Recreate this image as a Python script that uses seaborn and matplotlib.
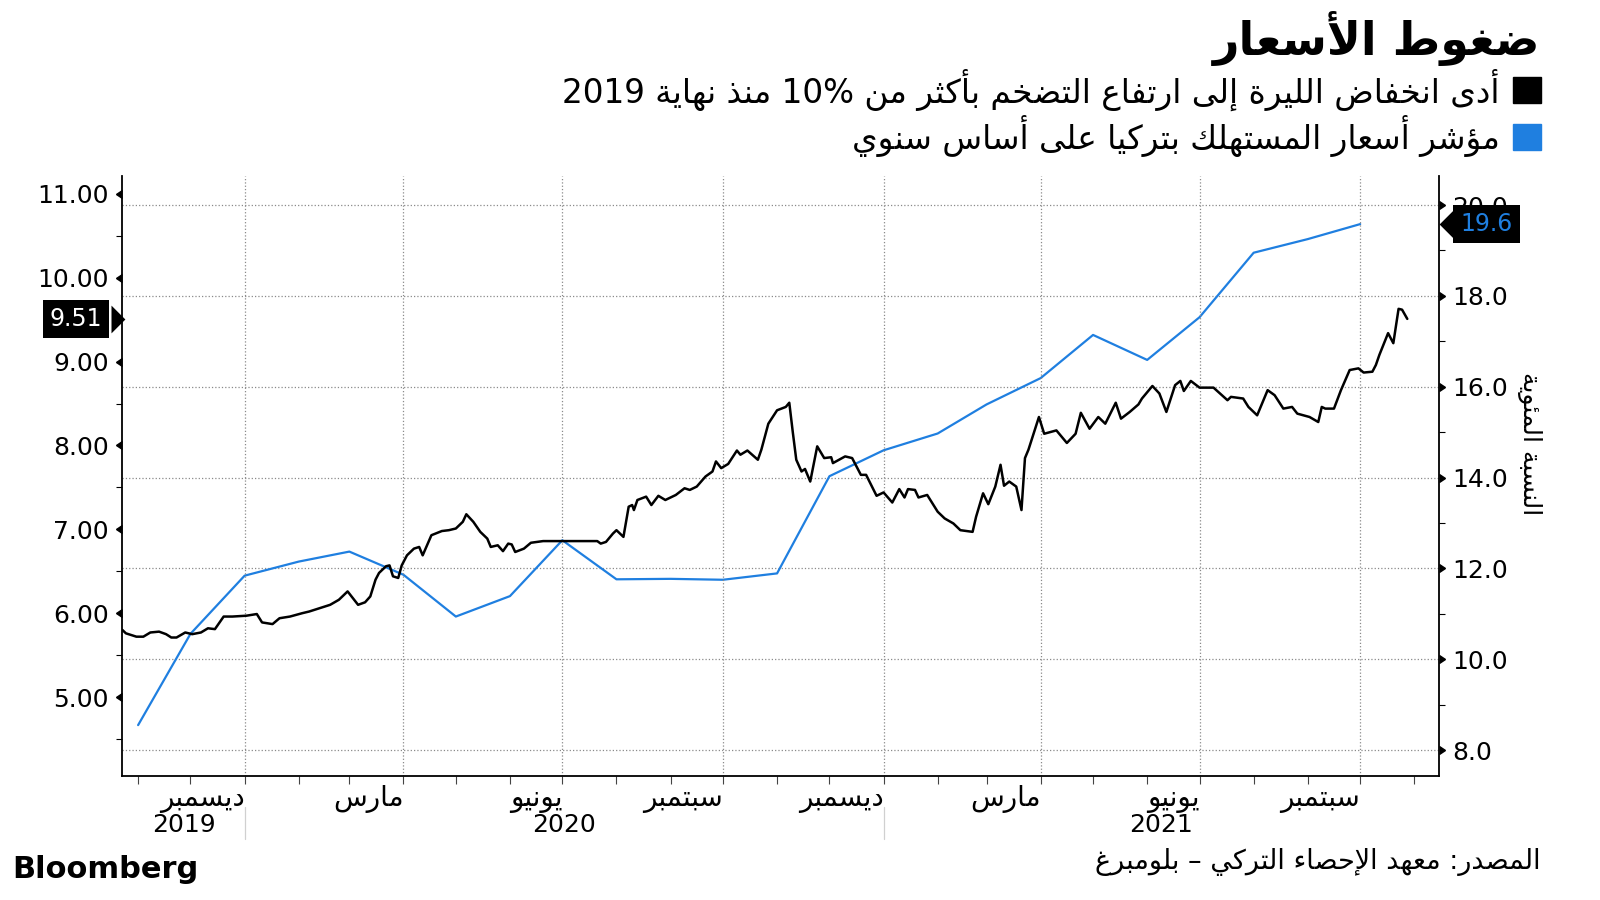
import re

import matplotlib
import matplotlib.pyplot as plt
import matplotlib.dates as mdates
import matplotlib.markers as mmarkers
import matplotlib.transforms as mtransforms
from matplotlib.patches import Rectangle
import pandas as pd
import seaborn as sns

# ---- data ----
lira_dates = [
    "2019-10-23", "2019-10-25", "2019-10-31", "2019-11-04", "2019-11-08", "2019-11-13",
    "2019-11-17", "2019-11-20", "2019-11-23", "2019-11-28", "2019-12-02", "2019-12-07",
    "2019-12-11", "2019-12-15", "2019-12-20", "2019-12-25", "2020-01-02", "2020-01-08",
    "2020-01-11", "2020-01-17", "2020-01-21", "2020-01-27", "2020-02-03", "2020-02-07",
    "2020-02-13", "2020-02-19", "2020-02-24", "2020-02-29", "2020-03-03", "2020-03-06",
    "2020-03-10", "2020-03-13", "2020-03-16", "2020-03-18", "2020-03-22", "2020-03-24",
    "2020-03-26", "2020-03-29", "2020-03-31", "2020-04-03", "2020-04-07", "2020-04-10",
    "2020-04-12", "2020-04-17", "2020-04-23", "2020-04-27", "2020-05-01", "2020-05-05",
    "2020-05-07", "2020-05-11", "2020-05-15", "2020-05-19", "2020-05-21", "2020-05-25",
    "2020-05-28", "2020-05-31", "2020-06-02", "2020-06-04", "2020-06-09", "2020-06-13",
    "2020-06-20", "2020-06-29", "2020-07-07", "2020-07-15", "2020-07-21", "2020-07-23",
    "2020-07-26", "2020-07-30", "2020-08-01", "2020-08-05", "2020-08-08", "2020-08-10",
    "2020-08-11", "2020-08-13", "2020-08-18", "2020-08-21", "2020-08-25", "2020-08-29",
    "2020-09-04", "2020-09-09", "2020-09-12", "2020-09-16", "2020-09-21", "2020-09-25",
    "2020-09-27", "2020-09-30", "2020-10-04", "2020-10-09", "2020-10-11", "2020-10-15",
    "2020-10-21", "2020-10-23", "2020-10-27", "2020-11-01", "2020-11-06", "2020-11-08",
    "2020-11-10", "2020-11-12", "2020-11-15", "2020-11-17", "2020-11-20", "2020-11-24",
    "2020-11-28", "2020-12-02", "2020-12-03", "2020-12-10", "2020-12-14", "2020-12-19",
    "2020-12-22", "2020-12-28", "2021-01-01", "2021-01-06", "2021-01-10", "2021-01-13",
    "2021-01-15", "2021-01-19", "2021-01-21", "2021-01-26", "2021-02-01", "2021-02-05",
    "2021-02-10", "2021-02-14", "2021-02-21", "2021-02-23", "2021-02-27", "2021-03-02",
    "2021-03-06", "2021-03-09", "2021-03-11", "2021-03-14", "2021-03-18", "2021-03-21",
    "2021-03-23", "2021-03-25", "2021-03-31", "2021-04-03", "2021-04-10", "2021-04-16",
    "2021-04-21", "2021-04-24", "2021-04-29", "2021-05-04", "2021-05-08", "2021-05-14",
    "2021-05-17", "2021-05-22", "2021-05-27", "2021-05-29", "2021-06-04", "2021-06-08",
    "2021-06-12", "2021-06-17", "2021-06-20", "2021-06-22", "2021-06-26", "2021-07-01",
    "2021-07-09", "2021-07-17", "2021-07-19", "2021-07-26", "2021-07-29", "2021-08-03",
    "2021-08-09", "2021-08-13", "2021-08-18", "2021-08-23", "2021-08-26", "2021-09-02",
    "2021-09-07", "2021-09-09", "2021-09-11", "2021-09-16", "2021-09-20", "2021-09-25",
    "2021-09-30", "2021-10-03", "2021-10-08", "2021-10-10", "2021-10-12", "2021-10-17",
    "2021-10-20", "2021-10-23", "2021-10-25", "2021-10-28",
]
lira_values = [
    5.80, 5.76, 5.72, 5.72, 5.77, 5.78, 5.75, 5.71, 5.71, 5.77, 5.75, 5.77,
    5.82, 5.81, 5.96, 5.96, 5.97, 5.99, 5.89, 5.87, 5.94, 5.96, 6.00, 6.02,
    6.06, 6.10, 6.16, 6.26, 6.18, 6.10, 6.13, 6.20, 6.40, 6.48, 6.56, 6.57,
    6.44, 6.42, 6.57, 6.69, 6.77, 6.79, 6.69, 6.93, 6.98, 6.99, 7.01, 7.09,
    7.18, 7.09, 6.97, 6.89, 6.79, 6.81, 6.74, 6.83, 6.82, 6.73, 6.77, 6.84,
    6.86, 6.86, 6.86, 6.86, 6.86, 6.83, 6.85, 6.95, 6.99, 6.91, 7.27, 7.29,
    7.23, 7.35, 7.39, 7.29, 7.40, 7.35, 7.41, 7.49, 7.47, 7.51, 7.63, 7.69,
    7.81, 7.73, 7.78, 7.94, 7.89, 7.94, 7.83, 7.95, 8.26, 8.42, 8.46, 8.51,
    8.16, 7.83, 7.69, 7.72, 7.57, 7.99, 7.85, 7.86, 7.79, 7.87, 7.85, 7.65,
    7.65, 7.40, 7.44, 7.32, 7.48, 7.38, 7.48, 7.47, 7.38, 7.41, 7.21, 7.13,
    7.07, 6.99, 6.97, 7.15, 7.43, 7.30, 7.51, 7.77, 7.52, 7.57, 7.51, 7.23,
    7.85, 7.95, 8.34, 8.14, 8.18, 8.03, 8.14, 8.39, 8.20, 8.34, 8.26, 8.51,
    8.32, 8.40, 8.49, 8.56, 8.71, 8.62, 8.40, 8.72, 8.77, 8.65, 8.77, 8.69,
    8.69, 8.54, 8.58, 8.56, 8.46, 8.36, 8.66, 8.60, 8.44, 8.46, 8.38, 8.34,
    8.28, 8.46, 8.44, 8.44, 8.66, 8.90, 8.92, 8.87, 8.88, 8.96, 9.08, 9.34,
    9.22, 9.63, 9.62, 9.51,
]

cpi_months = [
    "2019-10", "2019-11", "2019-12", "2020-01", "2020-02", "2020-03", "2020-04", "2020-05",
    "2020-06", "2020-07", "2020-08", "2020-09", "2020-10", "2020-11", "2020-12", "2021-01",
    "2021-02", "2021-03", "2021-04", "2021-05", "2021-06", "2021-07", "2021-08", "2021-09",
]
cpi_values = [
    8.55, 10.56, 11.84, 12.15, 12.37, 11.86, 10.94, 11.39,
    12.62, 11.76, 11.77, 11.75, 11.89, 14.03, 14.60, 14.97,
    15.61, 16.19, 17.14, 16.59, 17.53, 18.95, 19.25, 19.58,
]

quarter_ticks = ["2020-01-01", "2020-04-01", "2020-07-01", "2020-10-01",
                 "2021-01-01", "2021-04-01", "2021-07-01", "2021-10-01"]
quarter_labels = ["ديسمبر", "مارس", "يونيو", "سبتمبر",
                  "ديسمبر", "مارس", "يونيو", "سبتمبر"]
year_labels = ["2019", "2020", "2021"]
year_starts = ["2020-01-01", "2021-01-01"]

title = "ضغوط الأسعار"
legend_lira = "أدى انخفاض الليرة إلى ارتفاع التضخم بأكثر من 10% منذ نهاية 2019"
legend_cpi = "مؤشر أسعار المستهلك بتركيا على أساس سنوي"
right_label = "النسبة المئوية"
source = "المصدر: معهد الإحصاء التركي – بلومبرغ"

BLUE = "#1f7fe0"

# ---- minimal Arabic shaping + right-to-left ordering ----
TWO = {"\u0622": 0xFE81, "\u0623": 0xFE83, "\u0624": 0xFE85, "\u0625": 0xFE87,
       "\u0627": 0xFE8D, "\u0629": 0xFE93, "\u062F": 0xFEA9, "\u0630": 0xFEAB,
       "\u0631": 0xFEAD, "\u0632": 0xFEAF, "\u0648": 0xFEED, "\u0649": 0xFEEF}
FOUR = {"\u0626": 0xFE89, "\u0628": 0xFE8F, "\u062A": 0xFE95, "\u062B": 0xFE99,
        "\u062C": 0xFE9D, "\u062D": 0xFEA1, "\u062E": 0xFEA5, "\u0633": 0xFEB1,
        "\u0634": 0xFEB5, "\u0635": 0xFEB9, "\u0636": 0xFEBD, "\u0637": 0xFEC1,
        "\u0638": 0xFEC5, "\u0639": 0xFEC9, "\u063A": 0xFECD, "\u0641": 0xFED1,
        "\u0642": 0xFED5, "\u0643": 0xFED9, "\u0644": 0xFEDD, "\u0645": 0xFEE1,
        "\u0646": 0xFEE5, "\u0647": 0xFEE9, "\u064A": 0xFEF1}
ONE = {"\u0621": 0xFE80}
LAM_ALEF = {"\u0622": 0xFEF5, "\u0623": 0xFEF7, "\u0625": 0xFEF9, "\u0627": 0xFEFB}


def shape(text):
    out = []
    prev_joins = False
    i = 0
    while i < len(text):
        c = text[i]
        nxt = text[i + 1] if i + 1 < len(text) else ""
        if c == "\u0644" and nxt in LAM_ALEF:
            out.append(chr(LAM_ALEF[nxt] + (1 if prev_joins else 0)))
            prev_joins = False
            i += 2
            continue
        if c in FOUR:
            joins_next = nxt in FOUR or nxt in TWO
            base = FOUR[c]
            if prev_joins and joins_next:
                code = base + 3
            elif prev_joins:
                code = base + 1
            elif joins_next:
                code = base + 2
            else:
                code = base
            out.append(chr(code))
            prev_joins = True
        elif c in TWO:
            out.append(chr(TWO[c] + (1 if prev_joins else 0)))
            prev_joins = False
        elif c in ONE:
            out.append(chr(ONE[c]))
            prev_joins = False
        else:
            out.append(c)
            prev_joins = False
        i += 1
    return "".join(out)


def rtl(text):
    parts = re.findall(r"[0-9A-Za-z%.]+|[^0-9A-Za-z%.]", shape(text))
    return "".join(reversed(parts))


# ---- frames ----
lira = pd.DataFrame({"date": pd.to_datetime(lira_dates), "value": lira_values})
cpi = pd.DataFrame({
    "date": [(pd.Period(m, "M") + 1).start_time for m in cpi_months],
    "value": cpi_values,
})

sns.set_theme(style="white")
plt.rcParams["font.family"] = ["DejaVu Sans"]
plt.rcParams["text.color"] = "black"
plt.rcParams["xtick.color"] = "black"
plt.rcParams["ytick.color"] = "black"
plt.rcParams["axes.labelcolor"] = "black"

fig = plt.figure(figsize=(16, 9), dpi=100)
ax = fig.add_axes([0.0765, 0.1383, 0.8227, 0.6667])
ax2 = ax.twinx()
ax.set_zorder(ax2.get_zorder() + 1)
ax.patch.set_visible(False)

sns.lineplot(data=cpi, x="date", y="value", ax=ax2, color=BLUE, linewidth=1.6)
sns.lineplot(data=lira, x="date", y="value", ax=ax, color="black", linewidth=1.8)

ax.set_xlim(pd.Timestamp("2019-10-23"), pd.Timestamp("2021-11-15"))
ax.set_ylim(4.064, 11.22)
ax2.set_ylim(7.44, 20.65)
ax.set_xlabel("")
ax.set_ylabel("")
ax2.set_xlabel("")
ax2.set_ylabel("")

# left axis
ax.set_yticks([5, 6, 7, 8, 9, 10, 11])
ax.set_yticks([4.5, 5.5, 6.5, 7.5, 8.5, 9.5, 10.5], minor=True)
ax.yaxis.set_major_formatter(matplotlib.ticker.FormatStrFormatter("%.2f"))
ax.tick_params(axis="y", which="major", left=True, length=7, width=1, pad=3,
               labelsize=18, colors="black")
ax.tick_params(axis="y", which="minor", left=True, length=4, width=0.8)
for t in ax.yaxis.get_major_ticks():
    t.tick1line.set_marker(mmarkers.CARETLEFTBASE)
    t.tick1line.set_markersize(6)

# right axis
ax2.set_yticks([8, 10, 12, 14, 16, 18, 20])
ax2.set_yticks([9, 11, 13, 15, 17, 19], minor=True)
ax2.yaxis.set_major_formatter(matplotlib.ticker.FormatStrFormatter("%.1f"))
ax2.tick_params(axis="y", which="major", right=True, length=7, width=1, pad=3,
                labelsize=18, colors="black")
ax2.tick_params(axis="y", which="minor", right=True, length=4, width=0.8)
for t in ax2.yaxis.get_major_ticks():
    t.tick2line.set_marker(mmarkers.CARETRIGHTBASE)
    t.tick2line.set_markersize(6)

# x axis
ax.set_xticks(pd.to_datetime(quarter_ticks), labels=[rtl(s) for s in quarter_labels])
ax.xaxis.set_minor_locator(mdates.MonthLocator())
ax.tick_params(axis="x", which="both", bottom=True, length=6, width=0.8,
               color="#444444", labelsize=20, pad=1)
for lbl in ax.get_xticklabels():
    lbl.set_horizontalalignment("right")

# grid
ax.grid(axis="x", which="major", linestyle=":", color="#8a8a8a", linewidth=0.9)
ax.grid(axis="y", visible=False)
ax2.grid(axis="y", which="major", linestyle=":", color="#8a8a8a", linewidth=0.9)
ax2.grid(axis="x", visible=False)

for a in (ax, ax2):
    for s in a.spines.values():
        s.set_visible(False)
ax.spines["left"].set_visible(True)
ax.spines["bottom"].set_visible(True)
ax2.spines["right"].set_visible(True)
for s in (ax.spines["left"], ax.spines["bottom"], ax2.spines["right"]):
    s.set_color("black")
    s.set_linewidth(1.3)

# year row under the month labels
xl = ax.get_xlim()
edges = [xl[0]] + [mdates.date2num(pd.Timestamp(d)) for d in year_starts] + [xl[1]]
xtr = mtransforms.blended_transform_factory(ax.transData, ax.transAxes)
for yl, a0, a1 in zip(year_labels, edges[:-1], edges[1:]):
    ax.text((a0 + a1) / 2, -0.082, yl, transform=xtr, ha="center", va="center",
            fontsize=18)
for d in year_starts:
    ax.axvline(pd.Timestamp(d), ymin=-0.106, ymax=-0.052, clip_on=False,
               color="#d0d0d0", linewidth=0.9)

# last-value tags
last_lira = lira_values[-1]
ltr = mtransforms.blended_transform_factory(ax.transAxes, ax.transData)
ax.text(-0.0152, last_lira, f"{last_lira:.2f}", transform=ltr, ha="right",
        va="center", color="white", fontsize=17, clip_on=False, zorder=20,
        bbox=dict(boxstyle="square,pad=0.3", fc="black", ec="none"))
ax.plot([-0.0090], [last_lira], transform=ltr, clip_on=False, zorder=20,
        marker=[(0, -1), (1, 0), (0, 1), (0, -1)], markersize=20,
        color="black", markeredgewidth=0, linestyle="none")

last_cpi = cpi_values[-1]
rtr = mtransforms.blended_transform_factory(ax2.transAxes, ax2.transData)
ax2.text(1.0163, last_cpi, f"{last_cpi:.1f}", transform=rtr, ha="left",
         va="center", color=BLUE, fontsize=17, clip_on=False, zorder=20,
         bbox=dict(boxstyle="square,pad=0.3", fc="black", ec="none"))
ax2.plot([1.0107], [last_cpi], transform=rtr, clip_on=False, zorder=20,
         marker=[(0, -1), (-1, 0), (0, 1), (0, -1)], markersize=20,
         color="black", markeredgewidth=0, linestyle="none")

ax2.text(1.0693, 0.5525, rtl(right_label), transform=ax2.transAxes,
         rotation=270, ha="center", va="center", fontsize=18)

# header
fig.text(0.963, 0.957, rtl(title), ha="right", va="center", fontsize=33,
         fontweight="bold")
fig.patches.append(Rectangle((0.9456, 0.8856), 0.0175, 0.0283,
                             transform=fig.transFigure, color="black"))
fig.text(0.9375, 0.90, rtl(legend_lira), ha="right", va="center", fontsize=23.5)
fig.patches.append(Rectangle((0.9456, 0.8333), 0.0175, 0.0294,
                             transform=fig.transFigure, color=BLUE))
fig.text(0.9375, 0.849, rtl(legend_cpi), ha="right", va="center", fontsize=23.5)

# footer
fig.text(0.0075, 0.034, "Bloomberg", ha="left", va="center", fontsize=22,
         fontweight="bold")
fig.text(0.963, 0.042, rtl(source), ha="right", va="center", fontsize=19.5)

fig.savefig("out.png", dpi=100)
